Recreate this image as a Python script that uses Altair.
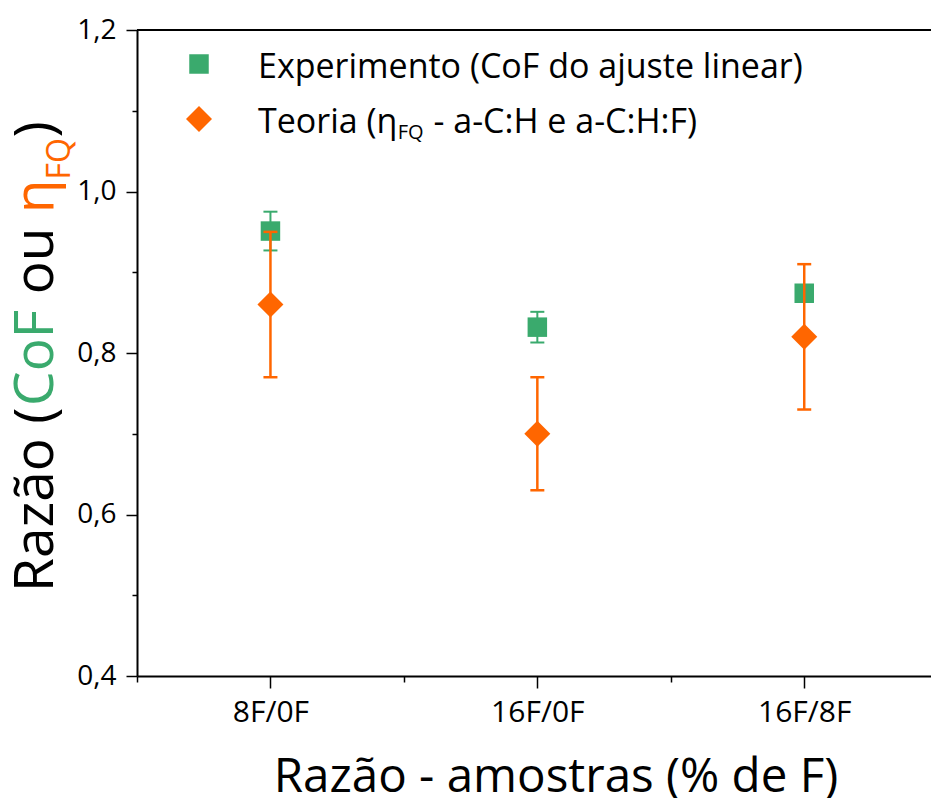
import altair as alt
import pandas as pd

# ---- data ----
categories = ["8F/0F", "16F/0F", "16F/8F"]
exp_values = [0.951, 0.832, 0.874]
exp_errors = [0.024, 0.019, 0.008]
teo_values = [0.86, 0.70, 0.82]
teo_errors = [0.09, 0.07, 0.09]
y_ticks = [0.4, 0.5, 0.6, 0.7, 0.8, 0.9, 1.0, 1.1, 1.2]
x_ticks = [0.5, 1, 1.5, 2, 2.5, 3]

GREEN = "#3AAA6D"
ORANGE = "#FF6600"
FONT = "Open Sans"
W, H = 794, 646


def frame(values, errors):
    return pd.DataFrame({
        "pos": [i + 1 for i in range(len(categories))],
        "cat": categories,
        "v": values,
        "lo": [v - e for v, e in zip(values, errors)],
        "hi": [v + e for v, e in zip(values, errors)],
    })


exp_df = frame(exp_values, exp_errors)
teo_df = frame(teo_values, teo_errors)

label_expr = " : ".join(
    [f"datum.value == {i + 1} ? '{c}'" for i, c in enumerate(categories)]
) + " : ''"

x_axis = alt.Axis(
    values=x_ticks, labelExpr=label_expr, title=None, grid=False,
    domainColor="black", domainWidth=2, tickColor="black", tickWidth=1.5,
    tickSize={"condition": {"test": "datum.value % 1 === 0", "value": 12}, "value": 6},
    labelFont=FONT, labelFontSize=30, labelColor="black", labelPadding=9,
    labelFlush=False, labelOverlap=False, labelBound=False,
)
y_axis = alt.Axis(
    values=y_ticks,
    labelExpr="round(datum.value*10) % 2 === 0 ? replace(format(datum.value, '.1f'), '.', ',') : ''",
    title=None, grid=False,
    domainColor="black", domainWidth=2, tickColor="black", tickWidth=1.5,
    tickSize={"condition": {"test": "round(datum.value*10) % 2 === 0", "value": 11}, "value": 5},
    labelFont=FONT, labelFontSize=28, labelColor="black", labelPadding=10,
    labelFlush=False, labelOverlap=False, labelBound=False,
)
x_scale = alt.Scale(domain=[0.5, 3.475], nice=False, zero=False)
y_scale = alt.Scale(domain=[0.4, 1.2], nice=False, zero=False)


def X():
    return alt.X("pos:Q", scale=x_scale, axis=x_axis)


def series_layers(df, color, shape, size, lw):
    base = alt.Chart(df)
    bar = base.mark_rule(color=color, strokeWidth=lw).encode(
        x=X(), y=alt.Y("lo:Q", scale=y_scale, axis=y_axis), y2="hi:Q")
    caps = base.transform_fold(["lo", "hi"], as_=["end", "yv"]).mark_rule(
        color=color, strokeWidth=lw, xOffset=-7, x2Offset=7).encode(
        x=X(), x2=alt.X2("pos:Q"), y=alt.Y("yv:Q", scale=y_scale, axis=y_axis))
    pts = base.mark_point(shape=shape, filled=True, size=size, color=color,
                          opacity=1, strokeWidth=0).encode(
        x=X(), y=alt.Y("v:Q", scale=y_scale, axis=y_axis))
    return [bar, caps, pts]


def txt(s, x, y, size, color="black", angle=0, align="left", baseline="alphabetic"):
    kw = dict(font=FONT, fontSize=size, color=color, align=align, baseline=baseline)
    if angle:
        kw["angle"] = angle
    return alt.Chart(pd.DataFrame({"t": [s]})).mark_text(**kw).encode(
        x=alt.value(x), y=alt.value(y), text="t:N")


# top frame line
top_line = alt.Chart(pd.DataFrame({"a": [0]})).mark_rule(
    color="black", strokeWidth=2).encode(
    x=alt.value(0), x2=alt.value(W), y=alt.value(0))

# legend
leg_sq = alt.Chart(pd.DataFrame({"a": [0]})).mark_point(
    shape="square", filled=True, size=380, color=GREEN, opacity=1, strokeWidth=0
).encode(x=alt.value(62), y=alt.value(34))
leg_di = alt.Chart(pd.DataFrame({"a": [0]})).mark_point(
    shape="diamond", filled=True, size=676, color=ORANGE, opacity=1, strokeWidth=0
).encode(x=alt.value(62), y=alt.value(89))

LFS = 34
sub_x = 121 + 4.108 * LFS
legend_texts = [
    txt("Experimento (CoF do ajuste linear)", 121, 48, LFS),
    txt("Teoria (\u03b7", 121, 103, LFS),
    txt("FQ", sub_x, 109, 20),
    txt("- a-C:H e a-C:H:F)", sub_x + 27 + 0.26 * LFS, 103, LFS),
]

# y title pieces (rotated)
TFS = 55
bx = 53 - 137
ytitle = [
    txt("Raz\u00e3o (", bx, 592 - 30, TFS, angle=270),
    txt("CoF", bx, 406 - 30, TFS, color=GREEN, angle=270),
    txt("ou", bx, 308.6 - 0.26 * TFS - 30, TFS, angle=270),
    txt("\u03b7", bx, 213.2 - 30, TFS, color=ORANGE, angle=270),
    txt("FQ", bx + 17, 179.6 - 30, 32, color=ORANGE, angle=270),
    txt(")", bx, 137.6 - 30, TFS, angle=270),
]

xtitle = txt("Raz\u00e3o - amostras (% de F)", 419, 762, 47.5, align="center")

layers = (series_layers(exp_df, GREEN, "square", 380, 2)
          + series_layers(teo_df, ORANGE, "diamond", 676, 2.5)
          + [top_line, leg_sq, leg_di] + legend_texts + ytitle + [xtitle])

chart = alt.layer(*layers).properties(
    width=W, height=H,
    padding={"left": 137, "top": 30, "right": 0, "bottom": 122},
    autosize=alt.AutoSizeParams(type="none"),
    background="white",
).configure_view(stroke=None)

chart.save("out.html", embed_options={"renderer": "svg", "actions": False})
